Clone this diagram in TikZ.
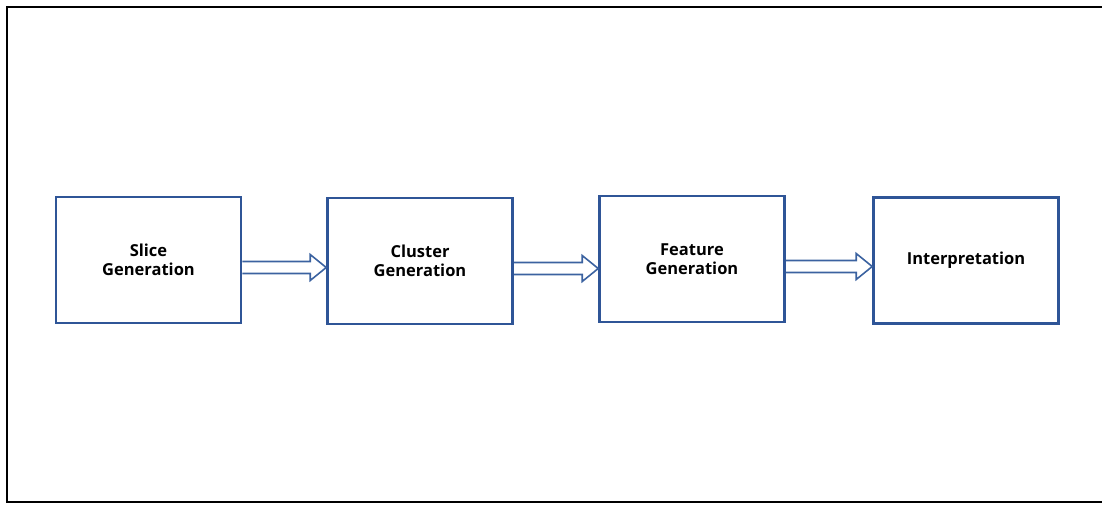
\documentclass[tikz,border=0pt]{standalone}
\usepackage{fontspec}
\setmainfont{Open Sans}
\usetikzlibrary{calc}
\definecolor{boxblue}{HTML}{2F5597}
\definecolor{arrblue}{HTML}{3B62A0}
\tikzset{
  stepbox/.style={draw=boxblue, line width=2.6pt, fill=white, minimum width=185pt, minimum height=126pt,
    align=center, font=\fontsize{16.5}{19}\selectfont\bfseries, inner sep=0pt},
  barrow/.style={draw=arrblue, line width=1.6pt, line join=miter}
}
\newcommand\blockarrow[2]{%
  \draw[barrow] let \p1=(#1.east), \p2=(#2.west), \n1={\y1-7.5pt} in
    (\x1,{\n1+6pt}) -- ({\x2-16pt},{\n1+6pt}) -- ({\x2-16pt},{\n1+13pt}) -- (\x2,\n1)
    -- ({\x2-16pt},{\n1-13pt}) -- ({\x2-16pt},{\n1-6pt}) -- (\x1,{\n1-6pt});}
\begin{document}
\begin{tikzpicture}[x=1pt,y=-1pt]
\useasboundingbox (0,0) rectangle (1102,504);
\draw[line width=2pt, black] (1104,7) -- (7,7) -- (7,502) -- (1104,502);
\node[stepbox] (b1) at (148.5,260) {Slice\\Generation};
\node[stepbox] (b2) at (420,261) {Cluster\\Generation};
\node[stepbox] (b3) at (692,259) {Feature\\Generation};
\node[stepbox] (b4) at (966,260.5) {Interpretation};
\blockarrow{b1}{b2}
\blockarrow{b2}{b3}
\blockarrow{b3}{b4}
\end{tikzpicture}
\end{document}
